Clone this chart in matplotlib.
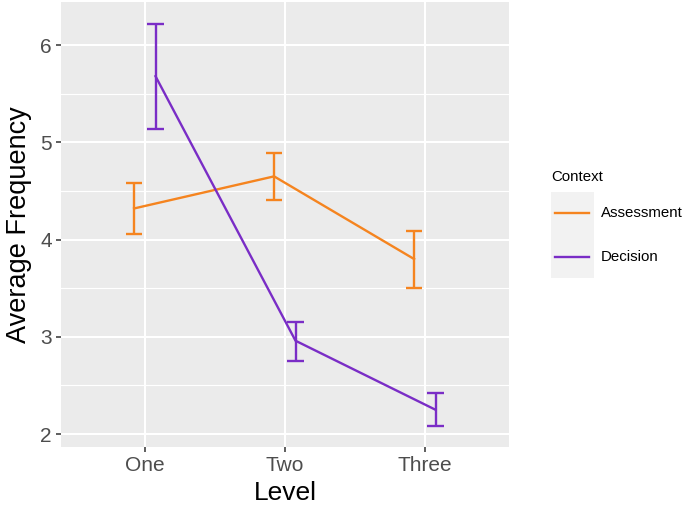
import matplotlib
matplotlib.use("Agg")
import matplotlib.pyplot as plt
from matplotlib.lines import Line2D
from matplotlib.patches import Rectangle
import numpy as np

plt.rcParams['font.family'] = ['Liberation Sans', 'DejaVu Sans']

# data
levels = ["One", "Two", "Three"]
contexts = ["Assessment", "Decision"]
means = {"Assessment": [4.32, 4.65, 3.80],
         "Decision": [5.68, 2.96, 2.25]}
upper = {"Assessment": [4.58, 4.89, 4.09],
         "Decision": [6.22, 3.15, 2.42]}
lower = {"Assessment": [4.06, 4.41, 3.50],
         "Decision": [5.14, 2.75, 2.08]}
colors = {"Assessment": "#F5841F", "Decision": "#7A2DC6"}
dodge = {"Assessment": -0.078, "Decision": 0.075}

fig = plt.figure(figsize=(6.85, 5.11), dpi=100)
ax = fig.add_axes([61 / 685, 64 / 511, 448 / 685, 445 / 511])
ax.set_facecolor("#EBEBEB")
for s in ax.spines.values():
    s.set_visible(False)

xpos = np.arange(1, len(levels) + 1)

# grid like ggplot
for y in [2.5, 3.5, 4.5, 5.5]:
    ax.axhline(y, color="white", lw=0.8, zorder=0)
for y in [2, 3, 4, 5, 6]:
    ax.axhline(y, color="white", lw=1.5, zorder=0)
for x in xpos:
    ax.axvline(x, color="white", lw=1.5, zorder=0)

for c in contexts:
    xs = xpos + dodge[c]
    ax.plot(xs, means[c], color=colors[c], lw=1.7, zorder=3)
    ax.vlines(xs, lower[c], upper[c], color=colors[c], lw=1.7, zorder=3)
    ax.hlines(lower[c], xs - 0.06, xs + 0.06, color=colors[c], lw=1.7, zorder=3)
    ax.hlines(upper[c], xs - 0.06, xs + 0.06, color=colors[c], lw=1.7, zorder=3)

ax.set_xlim(0.4, 3.6)
ax.set_ylim(1.867, 6.443)
ax.set_xticks(xpos)
ax.set_xticklabels(levels)
ax.set_yticks([2, 3, 4, 5, 6])
ax.tick_params(axis="both", length=3.5, width=1.1, color="#333333",
               labelcolor="#4D4D4D", labelsize=15, pad=3)
ax.set_xlabel("Level", fontsize=19, labelpad=4)
ax.set_ylabel("Average Frequency", fontsize=19.5, labelpad=6)

# legend drawn like ggplot's guide
fig.text(551 / 685, 1 - 177 / 511, "Context", fontsize=10.8, va="center", ha="left")
fig.add_artist(Rectangle((551 / 685, 1 - 278 / 511), 43 / 685, 86 / 511,
                         transform=fig.transFigure, facecolor="#F2F2F2", edgecolor="none"))
for c, yk in zip(contexts, [213, 257]):
    fig.add_artist(Line2D([555 / 685, 589 / 685], [1 - yk / 511] * 2,
                          transform=fig.transFigure, color=colors[c], lw=1.7))
    fig.text(601 / 685, 1 - yk / 511, c, fontsize=10.8, va="center", ha="left")

fig.savefig("out.png", dpi=100)
